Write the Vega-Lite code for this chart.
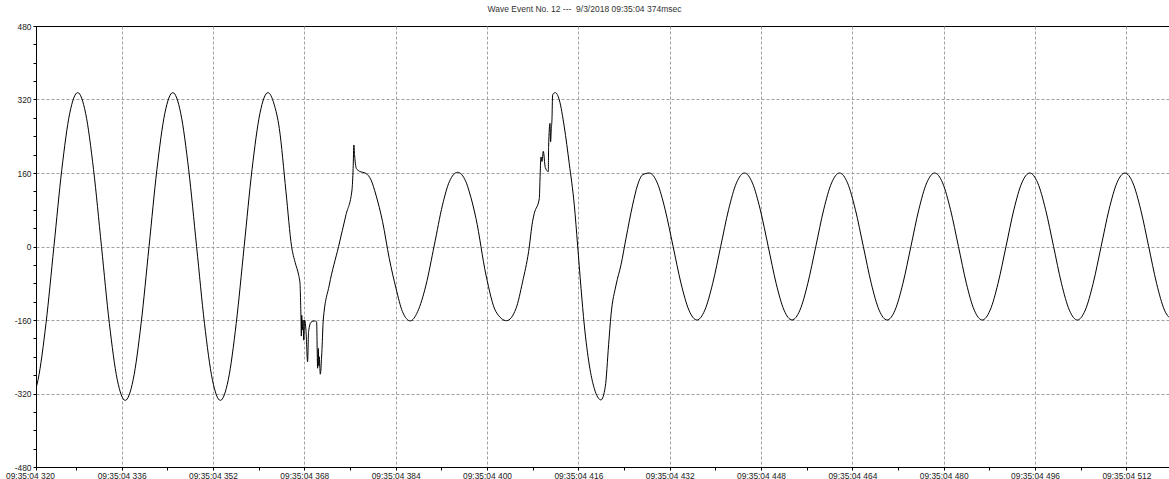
{
  "$schema": "https://vega.github.io/schema/vega-lite/v6.json",
  "width": 1133,
  "height": 441,
  "autosize": {"type": "none"},
  "padding": {"left": 36, "top": 26, "right": 0, "bottom": 12},
  "background": "white",
  "title": {
    "text": "Wave Event No. 12 --- \u00a09/3/2018 09:35:04 374msec",
    "font": "Liberation Sans",
    "fontSize": 8.5,
    "fontWeight": "normal",
    "color": "#333",
    "anchor": "middle",
    "dx": -18,
    "offset": 9
  },
  "config": {
    "view": {"stroke": "#000", "strokeWidth": 1},
    "axis": {
      "domainColor": "#000",
      "domainWidth": 1,
      "tickColor": "#000",
      "tickSize": 3,
      "labelFont": "Liberation Sans",
      "labelFontSize": 8.4,
      "labelColor": "#222",
      "gridColor": "#a0a0a0",
      "gridDash": [3, 2],
      "gridWidth": 1,
      "title": null,
      "labelOverlap": false,
      "labelFlush": false,
      "labelBound": false
    }
  },
  "data": {
    "values": [
      {"t": 319.97, "v": -335}, {"t": 321.36, "v": -290.1}, {"t": 322.75, "v": -167.5}, {"t": 324.14, "v": 0},
      {"t": 325.52, "v": 167.5}, {"t": 326.91, "v": 290.1}, {"t": 328.3, "v": 335}, {"t": 329.69, "v": 290.1},
      {"t": 331.08, "v": 167.5}, {"t": 332.47, "v": 0}, {"t": 333.85, "v": -167.5}, {"t": 335.24, "v": -290.1},
      {"t": 336.63, "v": -335}, {"t": 338.02, "v": -290.1}, {"t": 339.41, "v": -167.5}, {"t": 340.8, "v": 0},
      {"t": 342.18, "v": 167.5}, {"t": 343.57, "v": 290.1}, {"t": 344.96, "v": 335}, {"t": 346.35, "v": 290.1},
      {"t": 347.74, "v": 167.5}, {"t": 349.13, "v": 0}, {"t": 350.51, "v": -167.5}, {"t": 351.9, "v": -290.1},
      {"t": 353.29, "v": -335}, {"t": 354.68, "v": -290.1}, {"t": 356.07, "v": -167.5}, {"t": 357.46, "v": 0},
      {"t": 358.84, "v": 167.5}, {"t": 360.23, "v": 290.1}, {"t": 361.62, "v": 335}, {"t": 362.7, "v": 310},
      {"t": 363.62, "v": 257}, {"t": 364.79, "v": 119}, {"t": 365.77, "v": 0}, {"t": 366.4, "v": -35},
      {"t": 367.0, "v": -62}, {"t": 367.24, "v": -80}, {"t": 367.42, "v": -160}, {"t": 367.48, "v": -195},
      {"t": 367.55, "v": -150}, {"t": 367.65, "v": -182}, {"t": 367.78, "v": -160}, {"t": 367.9, "v": -204},
      {"t": 368.05, "v": -160}, {"t": 368.3, "v": -185}, {"t": 368.57, "v": -251}, {"t": 368.75, "v": -185},
      {"t": 369.17, "v": -165}, {"t": 369.75, "v": -162}, {"t": 370.15, "v": -164}, {"t": 370.33, "v": -265},
      {"t": 370.45, "v": -222}, {"t": 370.55, "v": -260}, {"t": 370.62, "v": -240}, {"t": 370.8, "v": -278},
      {"t": 371.1, "v": -222}, {"t": 371.32, "v": -160}, {"t": 372.37, "v": -84}, {"t": 374.0, "v": 0},
      {"t": 375.3, "v": 69}, {"t": 376.35, "v": 123}, {"t": 376.55, "v": 170}, {"t": 376.68, "v": 221},
      {"t": 376.8, "v": 200}, {"t": 376.95, "v": 180}, {"t": 377.1, "v": 170}, {"t": 377.63, "v": 164},
      {"t": 378.8, "v": 159}, {"t": 379.68, "v": 145}, {"t": 380.55, "v": 112}, {"t": 381.71, "v": 54},
      {"t": 382.88, "v": -26}, {"t": 384.06, "v": -91}, {"t": 385.2, "v": -142}, {"t": 386.56, "v": -162},
      {"t": 387.84, "v": -142}, {"t": 389.31, "v": -84}, {"t": 390.77, "v": 3}, {"t": 392.2, "v": 90},
      {"t": 393.4, "v": 141}, {"t": 394.85, "v": 161.5}, {"t": 396.3, "v": 141}, {"t": 396.9, "v": 119},
      {"t": 398.07, "v": 61}, {"t": 399.82, "v": -62}, {"t": 401.57, "v": -142}, {"t": 403.43, "v": -161.5},
      {"t": 405.08, "v": -135}, {"t": 406.23, "v": -77}, {"t": 407.29, "v": -11}, {"t": 407.99, "v": 55},
      {"t": 408.28, "v": 72}, {"t": 409.16, "v": 104}, {"t": 409.28, "v": 145}, {"t": 409.45, "v": 195},
      {"t": 409.63, "v": 185}, {"t": 409.86, "v": 207}, {"t": 410.21, "v": 172}, {"t": 410.74, "v": 163},
      {"t": 410.79, "v": 217}, {"t": 411.03, "v": 268}, {"t": 411.14, "v": 228}, {"t": 411.26, "v": 257},
      {"t": 411.38, "v": 277}, {"t": 411.49, "v": 330}, {"t": 411.96, "v": 335}, {"t": 412.66, "v": 319},
      {"t": 413.54, "v": 260}, {"t": 414.41, "v": 180}, {"t": 415.29, "v": 90}, {"t": 415.87, "v": 3},
      {"t": 416.47, "v": -91}, {"t": 417.04, "v": -171}, {"t": 417.92, "v": -258}, {"t": 418.79, "v": -309},
      {"t": 419.97, "v": -334}, {"t": 420.72, "v": -305}, {"t": 421.3, "v": -214}, {"t": 421.72, "v": -149},
      {"t": 422.6, "v": -84}, {"t": 423.47, "v": -40}, {"t": 424.35, "v": 18}, {"t": 425.5, "v": 90},
      {"t": 426.38, "v": 134}, {"t": 427.25, "v": 156},
      {"t": 428.43, "v": 160}, {"t": 429.82, "v": 138.6}, {"t": 431.21, "v": 80}, {"t": 432.6, "v": 0},
      {"t": 433.98, "v": -80}, {"t": 435.37, "v": -138.6}, {"t": 436.76, "v": -160}, {"t": 438.15, "v": -138.6},
      {"t": 439.54, "v": -80}, {"t": 440.93, "v": 0}, {"t": 442.31, "v": 80}, {"t": 443.7, "v": 138.6},
      {"t": 445.09, "v": 160}, {"t": 446.48, "v": 138.6}, {"t": 447.87, "v": 80}, {"t": 449.26, "v": 0},
      {"t": 450.64, "v": -80}, {"t": 452.03, "v": -138.6}, {"t": 453.42, "v": -160}, {"t": 454.81, "v": -138.6},
      {"t": 456.2, "v": -80}, {"t": 457.59, "v": 0}, {"t": 458.97, "v": 80}, {"t": 460.36, "v": 138.6},
      {"t": 461.75, "v": 160}, {"t": 463.14, "v": 138.6}, {"t": 464.53, "v": 80}, {"t": 465.92, "v": 0},
      {"t": 467.3, "v": -80}, {"t": 468.69, "v": -138.6}, {"t": 470.08, "v": -160}, {"t": 471.47, "v": -138.6},
      {"t": 472.86, "v": -80}, {"t": 474.25, "v": 0}, {"t": 475.63, "v": 80}, {"t": 477.02, "v": 138.6},
      {"t": 478.41, "v": 160}, {"t": 479.8, "v": 138.6}, {"t": 481.19, "v": 80}, {"t": 482.58, "v": 0},
      {"t": 483.96, "v": -80}, {"t": 485.35, "v": -138.6}, {"t": 486.74, "v": -160}, {"t": 488.13, "v": -138.6},
      {"t": 489.52, "v": -80}, {"t": 490.91, "v": 0}, {"t": 492.29, "v": 80}, {"t": 493.68, "v": 138.6},
      {"t": 495.07, "v": 160}, {"t": 496.46, "v": 138.6}, {"t": 497.85, "v": 80}, {"t": 499.24, "v": 0},
      {"t": 500.62, "v": -80}, {"t": 502.01, "v": -138.6}, {"t": 503.4, "v": -160}, {"t": 504.79, "v": -138.6},
      {"t": 506.18, "v": -80}, {"t": 507.57, "v": 0}, {"t": 508.95, "v": 80}, {"t": 510.34, "v": 138.6},
      {"t": 511.73, "v": 160}, {"t": 513.12, "v": 138.6}, {"t": 514.51, "v": 80}, {"t": 515.9, "v": 0},
      {"t": 517.28, "v": -80}, {"t": 518.67, "v": -138.6}, {"t": 520.06, "v": -160}
    ]
  },
  "mark": {"type": "line", "interpolate": "monotone", "clip": true, "color": "#000", "strokeWidth": 1},
  "encoding": {
    "x": {
      "field": "t",
      "type": "quantitative",
      "scale": {"domain": [321, 519.46], "nice": false, "zero": false},
      "axis": {
        "values": [321, 328, 336, 344, 352, 360, 368, 376, 384, 392, 400, 408, 416, 424, 432, 440, 448, 456, 464, 472, 480, 488, 496, 504, 512],
        "labelExpr": "datum.value % 16 == 0 ? '09:35:04 ' + datum.value : (datum.value < 325 ? '09:35:04 320' : '')",
        "labelPadding": 1,
        "labelOffset": {"condition": {"test": "datum.value < 325", "value": -6}, "value": 0},
        "gridOpacity": {"condition": {"test": "datum.value % 16 == 0", "value": 1}, "value": 0}
      }
    },
    "y": {
      "field": "v",
      "type": "quantitative",
      "scale": {"domain": [-480, 480], "nice": false, "zero": false},
      "axis": {
        "values": [-480, -440, -400, -360, -320, -280, -240, -200, -160, -120, -80, -40, 0, 40, 80, 120, 160, 200, 240, 280, 320, 360, 400, 440, 480],
        "labelExpr": "datum.value % 160 == 0 ? '' + datum.value : ''",
        "labelPadding": 2,
        "gridOpacity": {"condition": {"test": "abs(datum.value) < 480 && datum.value % 160 == 0", "value": 1}, "value": 0}
      }
    }
  }
}
